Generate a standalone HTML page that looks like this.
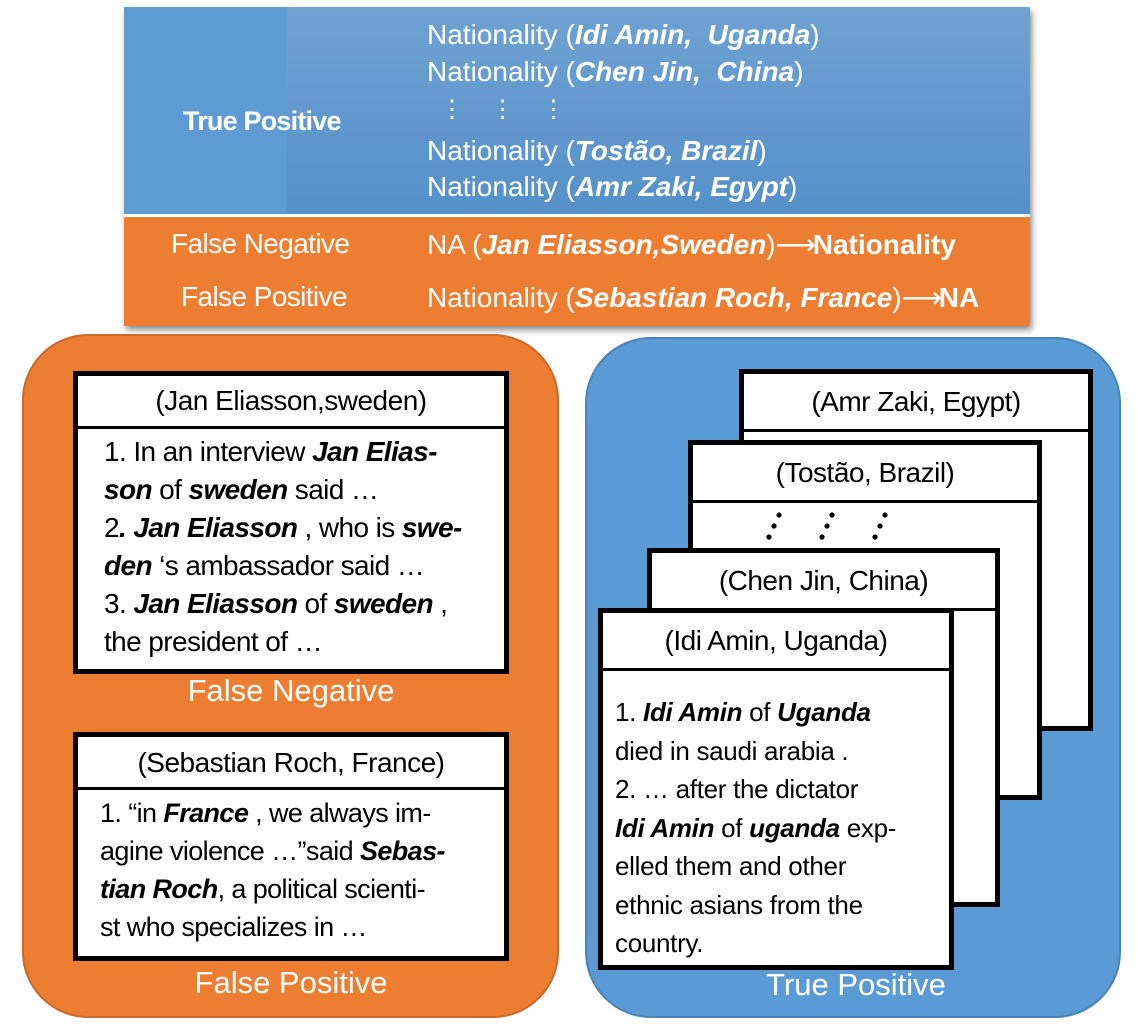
<!DOCTYPE html>
<html><head><meta charset="utf-8"><style>
*{margin:0;padding:0;box-sizing:border-box}
body{width:1138px;height:1026px;background:#fff;position:relative;overflow:hidden;font-family:"Liberation Sans",sans-serif}
.a{position:absolute}
.t{position:absolute;color:#fff;font-size:28px;white-space:nowrap;letter-spacing:0px}
.card{position:absolute;background:#fff;border:5px solid #000}
.hd{position:absolute;left:0;right:0;border-bottom:3px solid #000;text-align:center;font-size:28px;letter-spacing:-0.5px;white-space:nowrap}
.body{position:absolute;left:26px;font-size:28px;line-height:38px;letter-spacing:-0.6px;white-space:nowrap}
.lbl{position:absolute;color:#fff;font-size:31px;text-align:center;white-space:nowrap}
</style></head><body>
<!-- top table -->
<div class="a" style="left:124px;top:7px;width:906px;height:319px;box-shadow:2px 4px 6px rgba(0,0,0,.45);background:#ED7D31"></div>
<div class="a" style="left:124px;top:7px;width:906px;height:207px;background:linear-gradient(#6fa2d2,#5590c9)"></div>
<div class="a" style="left:124px;top:7px;width:163px;height:207px;background:#5f9bd3"></div>
<div class="a" style="left:124px;top:214px;width:906px;height:3px;background:#fff"></div>
<div class="t" style="left:183px;top:106px;font-weight:bold;font-size:27px;letter-spacing:-0.8px">True Positive</div>
<div class="t" style="left:427px;top:19px">Nationality (<b><i>Idi Amin,&nbsp; Uganda</i></b>)</div>
<div class="t" style="left:427px;top:56px">Nationality (<b><i>Chen Jin,&nbsp; China</i></b>)</div>
<div class="t" style="left:440px;top:95px;letter-spacing:0;font-size:24px">⋮&nbsp;&nbsp;&nbsp;&nbsp;⋮&nbsp;&nbsp;&nbsp;&nbsp;⋮</div>
<div class="t" style="left:427px;top:135px">Nationality (<b><i>Tostão, Brazil</i></b>)</div>
<div class="t" style="left:427px;top:171px">Nationality (<b><i>Amr Zaki, Egypt</i></b>)</div>
<div class="t" style="left:171px;top:228px;letter-spacing:-0.6px">False Negative</div>
<div class="t" style="left:181px;top:281px;letter-spacing:-0.6px">False Positive</div>
<div class="t" style="left:427px;top:228px">NA (<b><i>Jan Eliasson,Sweden</i></b>)<span style="letter-spacing:-3px">⟶</span><b>Nationality</b></div>
<div class="t" style="left:427px;top:281px">Nationality (<b><i>Sebastian Roch, France</i></b>)<span style="letter-spacing:-3px">⟶</span><b>NA</b></div>

<!-- orange panel -->
<div class="a" style="left:22px;top:334px;width:537px;height:684px;background:#ED7D31;border:2px solid #c9692a;border-radius:66px"></div>
<div class="card" style="left:73px;top:371px;width:436px;height:303px">
 <div class="hd" style="top:0;height:53px;line-height:50px">(Jan Eliasson,sweden)</div>
 <div class="body" style="top:57px">1. In an interview <b><i>Jan Elias-</i></b><br><b><i>son</i></b> of <b><i>sweden</i></b> said …<br>2<b><i>. Jan Eliasson</i></b> , who is <b><i>swe-</i></b><br><b><i>den</i></b> ‘s ambassador said …<br>3. <b><i>Jan Eliasson</i></b> of <b><i>sweden</i></b> ,<br>the president of …</div>
</div>
<div class="lbl" style="left:73px;width:436px;top:673px">False Negative</div>
<div class="card" style="left:73px;top:732px;width:436px;height:229px">
 <div class="hd" style="top:0;height:53px;line-height:52px">(Sebastian Roch, France)</div>
 <div class="body" style="top:57px;left:22px;font-size:27px">1. “in <b><i>France</i></b> , we always im-<br>agine violence …”said <b><i>Sebas-</i></b><br><b><i>tian Roch</i></b>, a political scienti-<br>st who specializes in …</div>
</div>
<div class="lbl" style="left:73px;width:436px;top:965px">False Positive</div>

<!-- blue panel -->
<div class="a" style="left:585px;top:337px;width:536px;height:681px;background:#5B9BD5;border:2px solid #4a83b8;border-radius:66px"></div>
<div class="card" style="left:739px;top:369px;width:354px;height:362px">
 <div class="hd" style="top:0;height:58px;line-height:56px">(Amr Zaki, Egypt)</div>
</div>
<div class="card" style="left:688px;top:440px;width:354px;height:360px">
 <div class="hd" style="top:0;height:58px;line-height:56px">(Tostão, Brazil)</div>
 <svg class="a" style="left:0;top:58px" width="344" height="50">
  <g fill="#000">
   <circle cx="86" cy="12" r="2.6"/><circle cx="81" cy="23" r="2.6"/><circle cx="76" cy="34" r="2.6"/>
   <circle cx="139" cy="12" r="2.6"/><circle cx="134" cy="23" r="2.6"/><circle cx="129" cy="34" r="2.6"/>
   <circle cx="192" cy="12" r="2.6"/><circle cx="187" cy="23" r="2.6"/><circle cx="182" cy="34" r="2.6"/>
  </g>
 </svg>
</div>
<div class="card" style="left:647px;top:548px;width:353px;height:359px">
 <div class="hd" style="top:0;height:58px;line-height:56px">(Chen Jin, China)</div>
</div>
<div class="card" style="left:598px;top:608px;width:356px;height:362px">
 <div class="hd" style="top:0;height:58px;line-height:56px">(Idi Amin, Uganda)</div>
 <div class="body" style="top:80px;left:12px;line-height:38.5px;font-size:26px;letter-spacing:-0.3px">1. <b><i>Idi Amin</i></b> of <b><i>Uganda</i></b><br>died in saudi arabia .<br>2. … after the dictator<br><b><i>Idi Amin</i></b> of <b><i>uganda</i></b> exp-<br>elled them and other<br>ethnic asians from the<br>country.</div>
</div>
<div class="lbl" style="left:598px;width:516px;top:967px">True Positive</div>
</body></html>
